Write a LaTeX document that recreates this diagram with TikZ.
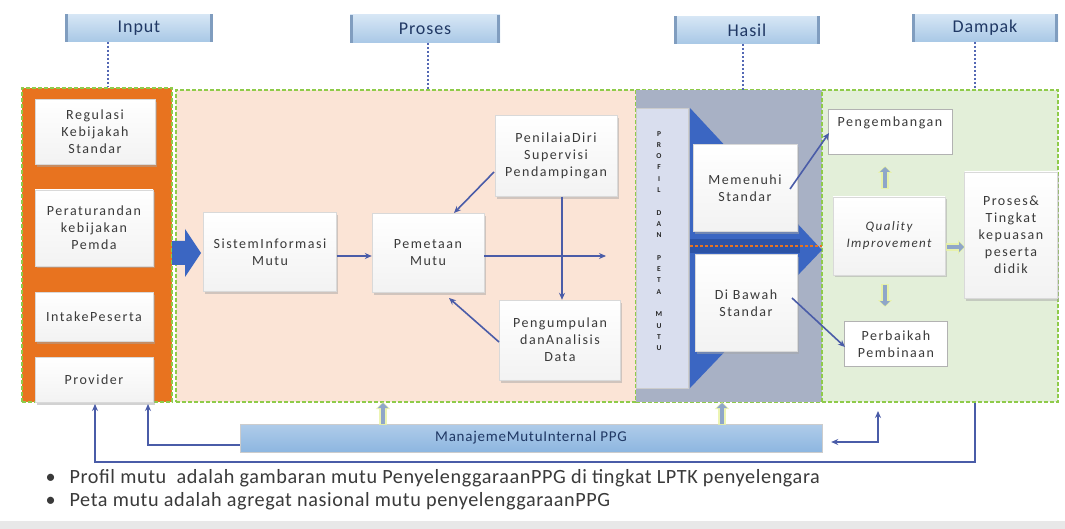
\documentclass[tikz,border=0pt]{standalone}
\usepackage{fontspec}
\setmainfont{Carlito}
\newfontfamily\lbl[LetterSpace=11]{Carlito}
\newfontfamily\hdr[LetterSpace=5]{Carlito}
\newfontfamily\note[LetterSpace=3]{Carlito}
\usetikzlibrary{shadows,arrows.meta,calc}
\definecolor{orng}{HTML}{E8731F}
\definecolor{peach}{HTML}{FBE4D6}
\definecolor{hasil}{HTML}{A8B1C5}
\definecolor{lgreen}{HTML}{E3EFD9}
\definecolor{dgreen}{HTML}{8FCB4A}
\definecolor{lineblue}{HTML}{4A5CA8}
\definecolor{dotblue}{HTML}{5468B4}
\definecolor{bigblue}{HTML}{3B66C2}
\definecolor{bandblue}{HTML}{2C53A6}
\definecolor{tabtop}{HTML}{D6E6F5}
\definecolor{tabbot}{HTML}{A9C8E6}
\definecolor{navy}{HTML}{203864}
\definecolor{txt}{HTML}{3A3A3A}
\definecolor{barfill}{HTML}{D9DEEE}
\definecolor{mmi}{HTML}{8DB6E0}
\definecolor{fatarr}{HTML}{8FA6C8}
\definecolor{glow}{HTML}{E8F2A0}
\begin{document}
\begin{tikzpicture}[x=1pt,y=-1pt,
  sz/.style 2 args={minimum width=#1pt,minimum height=#2pt,inner sep=0pt},
  tab/.style={draw=none,top color=tabtop,bottom color=tabbot,font=\hdr\fontsize{18}{20}\selectfont,text=navy},
  region/.style={draw=dgreen,line width=1.3pt,dash pattern=on 4pt off 2pt},
  box/.style={draw=gray!30,top color=white,bottom color=gray!10,align=center,
    font=\lbl\fontsize{14}{17}\selectfont,text=txt,
    drop shadow={shadow xshift=1.5pt,shadow yshift=-2.5pt,fill=gray!70,opacity=.5}},
  wbox/.style={draw=gray!60,fill=white,align=center,font=\lbl\fontsize{14}{17}\selectfont,text=txt},
  hdot/.style={draw=dotblue,line width=1.8pt,dash pattern=on 2.5pt off 1.5pt},
  conn/.style={draw=lineblue,line width=1.6pt,-{Stealth[length=7pt,width=6pt]}},
  fat/.style={draw=fatarr,line width=4.5pt,-{Triangle[length=5pt,width=10pt]}},
  fatglow/.style={draw=glow,line width=8pt,-{Triangle[length=7pt,width=14pt]},opacity=.8},
]
\useasboundingbox (0,0) rectangle (1065,529);
\fill[white] (0,0) rectangle (1065,529);

% header tabs
\node[tab,sz={147}{27}] (hIn) at (139,28) {Input};
\node[tab,sz={150}{28}] (hPr) at (425,29) {Proses};
\node[tab,sz={145}{27}] (hHa) at (747,30) {Hasil};
\node[tab,sz={146}{27}] (hDa) at (985,28) {Dampak};
\foreach \t in {hIn,hPr,hHa,hDa}{
  \fill[tabbot!70!navy] (\t.north west) rectangle ([xshift=3pt]\t.south west);
  \fill[tabbot!70!navy] ([xshift=-3pt]\t.north east) rectangle (\t.south east);
}

% regions
\node[region,fill=orng,sz={150}{314}] (rIn) at (97,245) {};
\node[region,fill=peach,sz={460}{312}] (rPr) at (406,246) {};
\node[draw=none,fill=hasil,sz={186}{312}] (rHa) at (729,246) {};
\node[region,fill=lgreen,sz={236}{312}] (rDa) at (940,246) {};
\draw[region] (rHa.north west) -- (rHa.north east);
\draw[region] (rHa.south west) -- (rHa.south east);

% dotted header links
\coordinate (dIn) at (108,42);
\coordinate (dPr) at (428,43);
\coordinate (dHa) at (743,44);
\coordinate (dDa) at (975,42);
\draw[hdot] (dIn) -- (dIn |- rIn.north);
\draw[hdot] (dPr) -- (dPr |- rPr.north);
\draw[hdot] (dHa) -- (dHa |- rHa.north);
\draw[hdot] (dDa) -- (dDa |- rDa.north);

% input boxes
\node[box,sz={120}{65}] (b1) at (95,132) {Regulasi\\Kebijakah\\Standar};
\node[box,sz={118}{76}] (b2) at (94,228) {Peraturandan\\kebijakan\\Pemda};
\node[box,sz={118}{49}] (b3) at (94,317) {IntakePeserta};
\node[box,sz={118}{45}] (b4) at (94,380) {Provider};

% big blue arrow into proses
\fill[bigblue] (172,241) -- (185,241) -- (185,229) -- (201,253) -- (185,277) -- (185,265) -- (172,265) -- cycle;

% proses boxes
\node[box,sz={133}{79}] (sim) at (270,252) {SistemInformasi\\Mutu};
\node[box,sz={112}{79}] (pem) at (428,253) {Pemetaan\\Mutu};
\node[box,sz={122}{81}] (pen) at (556,156) {PenilaiaDiri\\Supervisi\\Pendampingan};
\node[box,sz={121}{80}] (pgm) at (560,340) {Pengumpulan\\danAnalisis\\Data};
\coordinate (pemEnd) at (606,256);
\draw[conn] (sim.east |- 0,256) -- (pem.west |- 0,256);
\draw[conn] (pem.east |- 0,256) -- (pemEnd);
\draw[conn] (pen.south -| 562,0) -- (pgm.north -| 562,0);
\draw[conn] (494,172) -- (454,213);
\draw[conn] (499,342) -- (449,298);

% hasil
\fill[bigblue] (690,108) -- (690,388) -- (822,250) -- cycle;
\fill[bandblue] (690,239) rectangle (800,253);
\draw[orng,line width=1.2pt,dash pattern=on 3pt off 2pt] (690,246) -- (822,246);
\node[draw=gray!40,fill=barfill,sz={52}{280}] (vb) at (662,248) {};
\node[font=\bfseries\fontsize{7.5}{11.3}\selectfont,text=gray!30!black,align=center] (vbt) at (659,241)
  {P\\R\\O\\F\\I\\L\\[0pt]\strut\\D\\A\\N\\\strut\\P\\E\\T\\A\\\strut\\M\\U\\T\\U};
\node[box,sz={104}{87}] (mem) at (745,188) {Memenuhi\\Standar};
\node[box,sz={102}{97}] (dib) at (746,303) {Di Bawah\\Standar};

% dampak
\node[wbox,sz={124}{45}] (pgb) at (890,132) {};
\node[font=\lbl\fontsize{14}{17}\selectfont,text=txt,anchor=north] (pgbt) at ([yshift=-4pt]pgb.north) {Pengembangan};
\node[box,sz={112}{78},font=\lbl\itshape\fontsize{13}{17}\selectfont] (qi) at (889,236) {Quality\\Improvement};
\node[wbox,sz={103}{45}] (pbk) at (896,344) {Perbaikah\\Pembinaan};
\node[box,sz={93}{126}] (pt) at (1011,235) {Proses\&\\Tingkat\\kepuasan\\peserta\\didik};
\draw[conn] (790,189) -- (829,133);
\draw[conn] (792,298) -- (845,347);
\draw[fatglow] (885,189) -- (885,166);
\draw[fat] (885,188) -- (885,167);
\draw[fatglow] (885,284) -- (885,307);
\draw[fat] (885,285) -- (885,306);
\draw[fatglow] (946,247) -- (965,247);
\draw[fat] (947,247) -- (964,247);

% bottom bar
\node[draw=gray!40,top color=mmi!70!white,bottom color=mmi,sz={582}{28},
  font=\hdr\fontsize{15}{17}\selectfont,text=navy] (mm) at (531,438) {ManajemeMutuInternal PPG};
\draw[fatglow] (383,425) -- (383,402);
\draw[fat] (383,424) -- (383,403);
\draw[fatglow] (722,425) -- (722,402);
\draw[fat] (722,424) -- (722,403);
\coordinate (iL) at (148,404);
\draw[conn] (mm.west |- 0,445) -| (iL);
\coordinate (oR) at (975,403);
\coordinate (oL) at (95,404);
\draw[conn] (oR) -- (975,462) -| (oL);
\coordinate (rU) at (878,411);
\draw[draw=lineblue,line width=1.6pt,{Stealth[length=7pt,width=6pt]}-{Stealth[length=7pt,width=6pt]}] (mm.east |- 0,442) ++(9,0) -| (rU);

% notes
\node[anchor=west,font=\note\fontsize{20.2}{22}\selectfont,text=txt] (n1) at (42,478)
  {\textbullet\hspace{14pt}Profil mutu\ \ adalah gambaran mutu PenyelenggaraanPPG di tingkat LPTK penyelengara};
\node[anchor=west,font=\note\fontsize{20.2}{22}\selectfont,text=txt] (n2) at (42,501)
  {\textbullet\hspace{14pt}Peta mutu adalah agregat nasional mutu penyelenggaraanPPG};
\fill[gray!18] (0,521) rectangle (1065,529);
\end{tikzpicture}
\end{document}
